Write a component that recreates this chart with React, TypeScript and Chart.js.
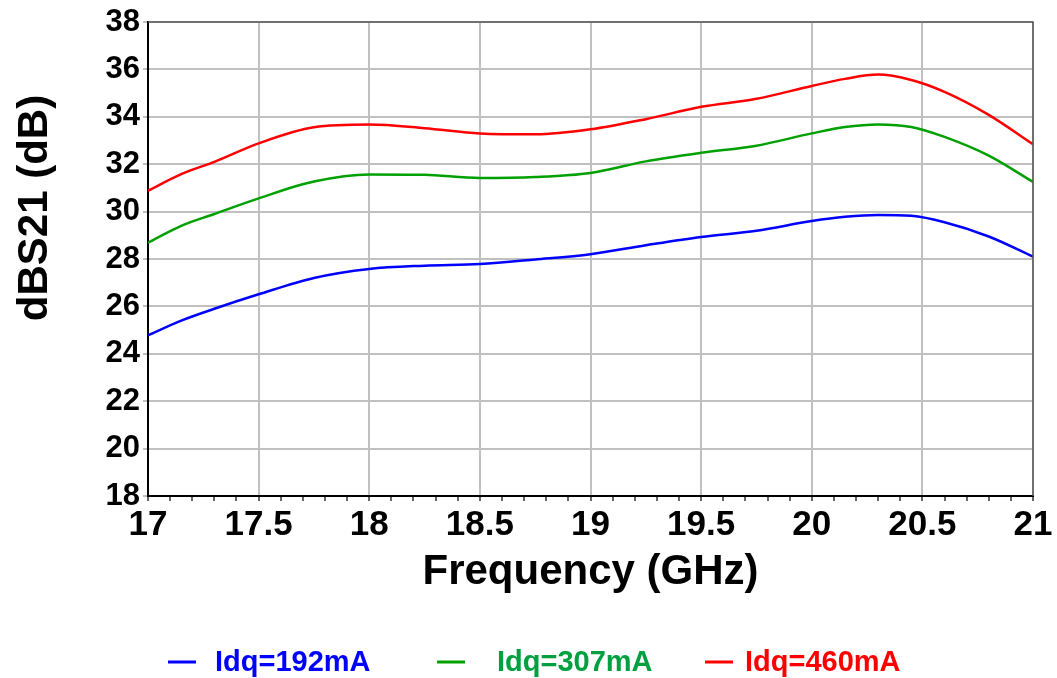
import React, { useEffect, useRef } from "react";
import { Chart, registerables } from "chart.js";

Chart.register(...registerables);

const freqGHz = [17.0, 17.15, 17.3, 17.5, 17.75, 18.0, 18.25, 18.5, 18.75, 19.0, 19.25, 19.5, 19.75, 20.0, 20.15, 20.3, 20.45, 20.6, 20.8, 21.0];
const s21_192mA = [24.78, 25.4, 25.9, 26.51, 27.2, 27.58, 27.72, 27.79, 27.98, 28.2, 28.58, 28.93, 29.19, 29.6, 29.78, 29.86, 29.82, 29.55, 28.95, 28.1];
const s21_307mA = [28.69, 29.4, 29.9, 30.56, 31.27, 31.57, 31.55, 31.42, 31.46, 31.63, 32.12, 32.48, 32.78, 33.3, 33.57, 33.68, 33.57, 33.15, 32.36, 31.25];
const s21_460mA = [30.88, 31.58, 32.1, 32.88, 33.56, 33.67, 33.52, 33.3, 33.26, 33.47, 33.9, 34.42, 34.76, 35.3, 35.6, 35.78, 35.55, 35.05, 34.08, 32.84];

const seriesLabels = ["Idq=192mA", "Idq=307mA", "Idq=460mA"];
const seriesColors = ["#0000ff", "#00a000", "#ff0000"];
const legendTextColors = ["#0000ff", "#00a040", "#ff0000"];

const xTitle = "Frequency (GHz)";
const yTitle = "dBS21 (dB)";
const xMin = 17, xMax = 21, yMin = 18, yMax = 38;

const FONT = '"Liberation Sans", Arial, sans-serif';

const overlay = {
  id: "overlay",
  afterDraw(chart: any) {
    const ctx = chart.ctx;
    const { left, right, top, bottom } = chart.chartArea;
    ctx.save();
    // top / right frame
    ctx.strokeStyle = "#555555";
    ctx.lineWidth = 1.5;
    ctx.beginPath();
    ctx.moveTo(left, top);
    ctx.lineTo(right, top);
    ctx.lineTo(right, bottom);
    ctx.stroke();

    ctx.fillStyle = "#000";
    ctx.textAlign = "center";
    ctx.textBaseline = "middle";
    ctx.font = `bold 42px ${FONT}`;
    ctx.fillText(xTitle, (left + right) / 2, 572);

    ctx.save();
    ctx.translate(35, 208);
    ctx.rotate(-Math.PI / 2);
    ctx.fillText(yTitle, 0, 0);
    ctx.restore();

    // legend
    const lineX = [168, 437, 705];
    const textX = [215, 497, 745];
    const ly = 662;
    ctx.font = `bold 29px ${FONT}`;
    ctx.textAlign = "left";
    chart.data.datasets.forEach((ds: any, i: number) => {
      ctx.strokeStyle = ds.borderColor;
      ctx.lineWidth = 3;
      ctx.beginPath();
      ctx.moveTo(lineX[i], ly);
      ctx.lineTo(lineX[i] + 28, ly);
      ctx.stroke();
      ctx.fillStyle = legendTextColors[i];
      ctx.fillText(ds.label, textX[i], ly + 1);
    });
    ctx.restore();
  },
};

const isMajor = (v: number) => Math.abs(v * 2 - Math.round(v * 2)) < 1e-6;

export default function App() {
  const ref = useRef<HTMLCanvasElement>(null);
  useEffect(() => {
    if (!ref.current) return;
    const series = [s21_192mA, s21_307mA, s21_460mA];
    const chart = new Chart(ref.current, {
      type: "line",
      data: {
        datasets: series.map((vals, i) => ({
          label: seriesLabels[i],
          data: freqGHz.map((f, j) => ({ x: f, y: vals[j] })),
          borderColor: seriesColors[i],
          backgroundColor: seriesColors[i],
          borderWidth: 2.5,
          pointRadius: 0,
          cubicInterpolationMode: "monotone" as const,
          fill: false,
        })),
      },
      options: {
        animation: false,
        responsive: true,
        maintainAspectRatio: false,
        layout: { padding: { left: 0, top: 22, right: 24, bottom: 0 } },
        plugins: { legend: { display: false }, tooltip: { enabled: false } },
        scales: {
          x: {
            type: "linear",
            min: xMin,
            max: xMax,
            afterFit: (s: any) => { s.height = 678 - 496; },
            afterBuildTicks: (s: any) => {
              const t = [];
              for (let k = 0; k <= 40; k++) t.push({ value: Math.round((xMin + k * 0.1) * 10) / 10 });
              s.ticks = t;
            },
            ticks: {
              autoSkip: false,
              maxRotation: 0,
              padding: 3,
              color: "#000",
              font: { family: FONT, size: 35, weight: "bold" },
              callback: (v: any) => (isMajor(Number(v)) ? String(Number(v)) : ""),
            },
            grid: {
              color: (c: any) => (isMajor(c.tick.value) ? "#c0c0c0" : "rgba(0,0,0,0)"),
              tickColor: "#666",
              lineWidth: 2,
              tickLength: 5,
            },
            border: { color: "#000", width: 2 },
          },
          y: {
            min: yMin,
            max: yMax,
            afterFit: (s: any) => { s.width = 148; },
            ticks: {
              stepSize: 2,
              padding: 3,
              color: "#000",
              font: { family: FONT, size: 31, weight: "bold" },
            },
            grid: { color: "#c0c0c0", lineWidth: 2, tickLength: 5 },
            border: { color: "#000", width: 2 },
          },
        },
      },
      plugins: [overlay],
    });
    return () => chart.destroy();
  }, []);
  return (
    <div style={{ position: "absolute", left: 0, top: 0, width: 1057, height: 678, background: "#fff" }}>
      <canvas ref={ref} />
    </div>
  );
}
